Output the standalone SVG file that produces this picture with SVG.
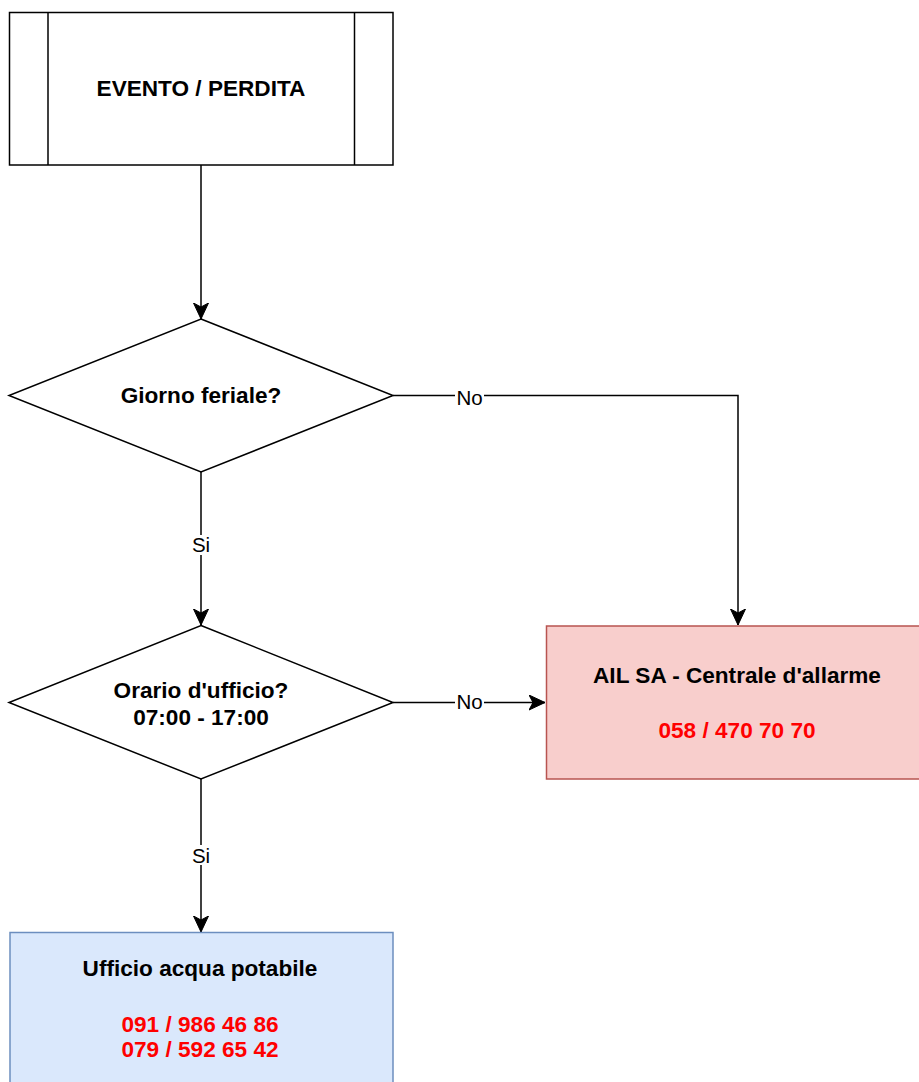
<svg xmlns="http://www.w3.org/2000/svg" width="919" height="1082" viewBox="0 0 919 1082">
  <style>
    .shape { fill: #ffffff; stroke: #000000; stroke-width: 1.5; }
    .edge { fill: none; stroke: #000000; stroke-width: 1.5; }
    .t { font-family: "Liberation Sans", Arial, sans-serif; font-size: 22.6px; font-weight: bold; fill: #000000; text-anchor: middle; }
    .red { fill: #ff0000; }
    .lbl { font-family: "Liberation Sans", Arial, sans-serif; font-size: 20.5px; fill: #000000; text-anchor: middle; }
    .lblbg { fill: #ffffff; stroke: none; }
  </style>
  <defs>
    <marker id="arrow" markerUnits="userSpaceOnUse" markerWidth="18" markerHeight="18" refX="16" refY="8" orient="auto">
      <path d="M0,0.5 L16,8 L0,15.5 L4,8 Z" fill="#000000" stroke="#000000" stroke-width="1"/>
    </marker>
  </defs>
  <rect x="0" y="0" width="919" height="1082" fill="#ffffff"/>

  <g id="connectors">
    <path class="edge" d="M201,165 L201,319" marker-end="url(#arrow)"/>
    <path class="edge" d="M393,395.5 L738,395.5 L738,625" marker-end="url(#arrow)"/>
    <path class="edge" d="M201,472 L201,625" marker-end="url(#arrow)"/>
    <path class="edge" d="M393,702.5 L545,702.5" marker-end="url(#arrow)"/>
    <path class="edge" d="M201,779 L201,932" marker-end="url(#arrow)"/>
    <g id="edge-labels">
      <rect class="lblbg" x="455" y="387" width="29" height="20"/>
      <text class="lbl" x="469.5" y="404.5">No</text>
      <rect class="lblbg" x="455" y="693" width="29" height="20"/>
      <text class="lbl" x="469.5" y="708.5">No</text>
      <rect class="lblbg" x="190" y="535" width="22" height="20"/>
      <text class="lbl" x="201" y="552">Si</text>
      <rect class="lblbg" x="190" y="845" width="22" height="20"/>
      <text class="lbl" x="201" y="863">Si</text>
    </g>
  </g>

  <g id="node-evento">
    <rect class="shape" x="9.5" y="12.5" width="383.5" height="152.5"/>
    <line class="edge" x1="48" y1="12.5" x2="48" y2="165"/>
    <line class="edge" x1="354.5" y1="12.5" x2="354.5" y2="165"/>
    <text class="t" x="201" y="96">EVENTO / PERDITA</text>
  </g>

  <g id="node-giorno">
    <polygon class="shape" points="201,319 393,395.5 201,472 9,395.5"/>
    <text class="t" x="201" y="402.5">Giorno feriale?</text>
  </g>

  <g id="node-orario">
    <polygon class="shape" points="201,625.5 393,702.5 201,779 9,702.5"/>
    <text class="t" x="201" y="697.5">Orario d'ufficio?</text>
    <text class="t" x="201" y="725">07:00 - 17:00</text>
  </g>

  <g id="node-ail">
    <rect x="546.5" y="626" width="383" height="153" fill="#f8cecc" stroke="#b85450" stroke-width="1.5"/>
    <text class="t" x="737" y="683">AIL SA - Centrale d'allarme</text>
    <text class="t red" x="737" y="738">058 / 470 70 70</text>
  </g>

  <g id="node-ufficio">
    <rect x="10" y="932.5" width="383" height="153" fill="#dae8fc" stroke="#6c8ebf" stroke-width="1.5"/>
    <text class="t" x="200" y="976">Ufficio acqua potabile</text>
    <text class="t red" x="200" y="1031.5">091 / 986 46 86</text>
    <text class="t red" x="200" y="1057">079 / 592 65 42</text>
  </g>
</svg>
